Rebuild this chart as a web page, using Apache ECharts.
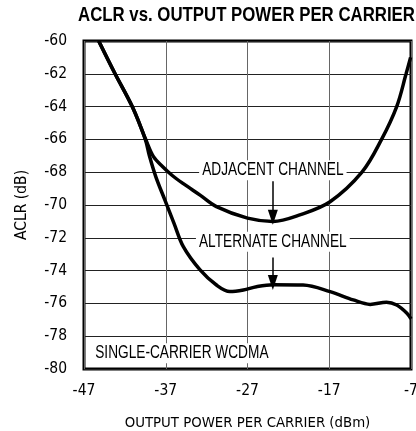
<!DOCTYPE html>
<html>
<head>
<meta charset="utf-8">
<script src="https://cdn.jsdelivr.net/npm/echarts@6/dist/echarts.min.js"></script>
<style>
html,body{margin:0;padding:0;background:#fff;}
#c{width:416px;height:431px;}
</style>
</head>
<body>
<div id="c"></div>
<script>
// Data
const xTicks = [-47, -37, -27, -17, -7];
const yTicks = [-80, -78, -76, -74, -72, -70, -68, -66, -64, -62, -60];

const adjacentX = [-45.2, -43.2, -41.1, -39.45, -38.5, -37.4, -36.2, -34.85, -32.8, -30.8, -27.0, -23.9, -20.6, -16.9, -13.0, -10.6, -8.75, -7.6, -7.05];
const adjacentY = [-60.0, -62.0, -64.0, -66.0, -67.05, -67.65, -68.2, -68.7, -69.4, -70.1, -70.8, -71.0, -70.6, -69.8, -68.0, -66.0, -64.0, -62.0, -61.0];

const alternateX = [-45.2, -43.2, -41.1, -39.5, -39.0, -38.2, -37.1, -36.0, -34.85, -32.8, -30.8, -29.15, -27.5, -25.9, -23.85, -20.2, -16.9, -14.06, -12.0, -10.0, -8.75, -7.5, -7.0];
const alternateY = [-60.0, -62.0, -64.0, -66.0, -67.0, -68.3, -69.7, -71.1, -72.54, -73.96, -74.88, -75.28, -75.18, -74.98, -74.86, -74.88, -75.28, -75.79, -76.06, -75.93, -76.1, -76.6, -76.95];

const titleText = 'ACLR vs. OUTPUT POWER PER CARRIER';
const xName = 'OUTPUT POWER PER CARRIER (dBm)';
const yName = 'ACLR (dB)';
const noteText = 'SINGLE-CARRIER WCDMA';
const adjLabel = 'ADJACENT CHANNEL';
const altLabel = 'ALTERNATE CHANNEL';

const COND = "'DejaVu Sans Condensed', 'Liberation Sans Narrow', sans-serif";
const SANS = "'Liberation Sans', Arial, sans-serif";

function zip(xs, ys) { return xs.map((x, i) => [x, ys[i]]); }

const chart = echarts.init(document.getElementById('c'), null, {renderer: 'canvas'});

const lineStyle = {color: '#000', width: 3.5};

chart.setOption({
  animation: false,
  backgroundColor: '#fff',
  grid: {left: 84, right: 5, top: 41, bottom: 62, containLabel: false, outerBoundsMode: 'none',
         show: true, borderColor: '#000', borderWidth: 3, backgroundColor: 'transparent'},
  xAxis: {
    type: 'value', min: xTicks[0], max: xTicks[xTicks.length - 1], interval: 10,
    axisLine: {show: false}, axisTick: {show: false},
    splitLine: {show: true, lineStyle: {color: '#666', width: 1}},
    axisLabel: {fontFamily: COND, fontSize: 15.5, color: '#000', margin: 14},
    name: xName, nameLocation: 'middle', nameGap: 47,
    nameTextStyle: {fontFamily: COND, fontSize: 14.8, color: '#000'}
  },
  yAxis: {
    type: 'value', min: yTicks[0], max: yTicks[yTicks.length - 1], interval: 2,
    axisLine: {show: false}, axisTick: {show: false},
    splitLine: {show: true, lineStyle: {color: '#222', width: 1}},
    axisLabel: {fontFamily: COND, fontSize: 15.5, color: '#000', margin: 17},
    name: yName, nameLocation: 'middle', nameGap: 54, nameRotate: 90,
    nameTextStyle: {fontFamily: COND, fontSize: 15.5, color: '#000'}
  },
  series: [
    {
      name: adjLabel, type: 'line', data: zip(adjacentX, adjacentY),
      smooth: 0.35, symbol: 'none', lineStyle: lineStyle, z: 3,
      markLine: {
        silent: true, animation: false, label: {show: false},
        lineStyle: {color: '#000', width: 1.5, type: 'solid'},
        symbol: ['none', 'triangle'],
        data: [
          [{coord: [-23.9, -68.55], symbol: 'none'}, {coord: [-23.9, -70.75], symbol: 'triangle', symbolSize: [10, 15]}],
          [{coord: [-23.9, -73.2], symbol: 'none'}, {coord: [-23.9, -74.72], symbol: 'triangle', symbolSize: [10, 15]}]
        ]
      }
    },
    {
      name: altLabel, type: 'line', data: zip(alternateX, alternateY),
      smooth: 0.35, symbol: 'none', lineStyle: lineStyle, z: 3
    }
  ]
});

function place() {
  const p = (x, y) => chart.convertToPixel({gridIndex: 0}, [x, y]);
  const a = p(-23.9, -67.88);
  const b = p(-23.9, -72.24);
  const n = p(-46.0, -79.04);
  const txt = (pt, text, align) => ({
    type: 'text', x: pt[0], y: pt[1], z: 10, scaleX: 0.76,
    style: {text: text, font: "18px " + SANS, fill: '#000', align: align, verticalAlign: 'middle',
            backgroundColor: '#fff', padding: [1, 4, 1, 4]}
  });
  chart.setOption({graphic: [
    {type: 'text', x: 78, y: 15, z: 10, scaleX: 0.8,
     style: {text: titleText, font: "bold 21px " + SANS, fill: '#000', align: 'left', verticalAlign: 'middle'}},
    txt(a, adjLabel, 'center'), txt(b, altLabel, 'center'), txt(n, noteText, 'left')
  ]});
}
place();
</script>
</body>
</html>
